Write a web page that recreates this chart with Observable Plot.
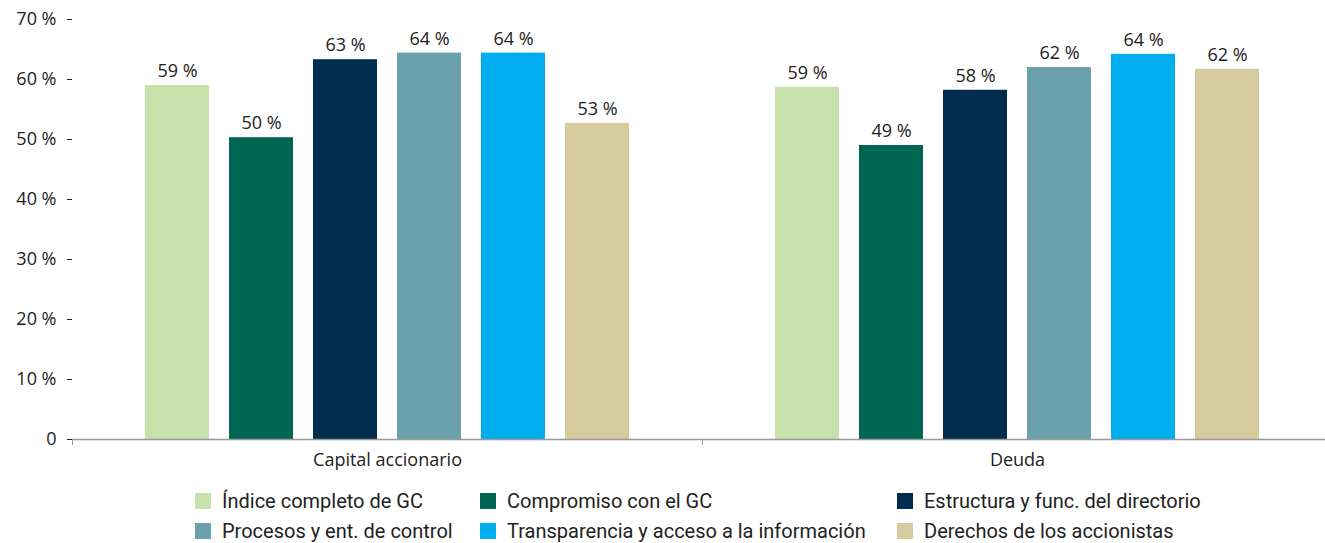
<!DOCTYPE html>
<html>
<head>
<meta charset="utf-8">
<script src="https://cdn.jsdelivr.net/npm/d3@7"></script>
<script src="https://cdn.jsdelivr.net/npm/@observablehq/plot@0.6"></script>
<style>
  body { margin: 0; background: #fff; font-family: "Open Sans", sans-serif; }
  #chart svg { overflow: visible; }
  .legend { display: grid; grid-template-columns: 285px 417px auto; margin-left: 195px; margin-top: 6px;
    font-family: "Roboto", sans-serif; font-size: 20px; line-height: 30px; color: #222; }
  .legend div { display: flex; align-items: center; white-space: nowrap; }
  .legend span.sw { display: inline-block; width: 16px; height: 16px; margin-right: 11px; }
</style>
</head>
<body>
<div id="chart"></div>
<div class="legend" id="legend"></div>
<script>
const groups = ["Capital accionario", "Deuda"];
const categories = [
  "Índice completo de GC",
  "Compromiso con el GC",
  "Estructura y func. del directorio",
  "Procesos y ent. de control",
  "Transparencia y acceso a la información",
  "Derechos de los accionistas"
];
const colors = ["#c7e2ab", "#006651", "#002d4e", "#6aa1ac", "#00aeef", "#d6cb9f"];
const capitalValues = [59, 50.3, 63.3, 64.4, 64.4, 52.7];
const deudaValues = [58.7, 49, 58.2, 62, 64.2, 61.7];
const yTicks = [0, 10, 20, 30, 40, 50, 60, 70];

const data = [];
categories.forEach((c, i) => data.push({group: groups[0], category: c, value: capitalValues[i]}));
categories.forEach((c, i) => data.push({group: groups[1], category: c, value: deudaValues[i]}));

const chart = Plot.plot({
  width: 1325,
  height: 480,
  marginLeft: 72,
  marginRight: -7,
  marginTop: 19,
  marginBottom: 41,
  style: {fontFamily: "'Open Sans', sans-serif", fontSize: "18px", color: "#222", background: "transparent"},
  facet: {data, x: "group"},
  fx: {domain: groups, padding: 0, label: null, tickSize: 0, tickPadding: 14},
  x: {domain: categories, paddingInner: 0.238, paddingOuter: 0.869, axis: null},
  y: {domain: [0, 70], ticks: yTicks, tickFormat: d => d === 0 ? "0" : d + " %", label: null, tickSize: 5, tickPadding: 11},
  color: {domain: categories, range: colors},
  marks: [
    Plot.barY(data, {x: "category", y: "value", fill: "category"}),
    Plot.text(data, {x: "category", y: "value", text: d => Math.round(d.value) + " %", dy: -14, fill: "#222", fontSize: 18}),
    Plot.ruleX(data, Plot.selectFirst({x: "category", y1: 0, y2: -1, dx: -105, stroke: "#999", strokeWidth: 1})),
    Plot.ruleY([0], {stroke: "#999", strokeWidth: 1.5})
  ]
});
document.getElementById("chart").appendChild(chart);

const legend = document.getElementById("legend");
categories.forEach((c, i) => {
  const d = document.createElement("div");
  const sw = document.createElement("span");
  sw.className = "sw";
  sw.style.background = colors[i];
  d.appendChild(sw);
  d.appendChild(document.createTextNode(c));
  legend.appendChild(d);
});
</script>
</body>
</html>
